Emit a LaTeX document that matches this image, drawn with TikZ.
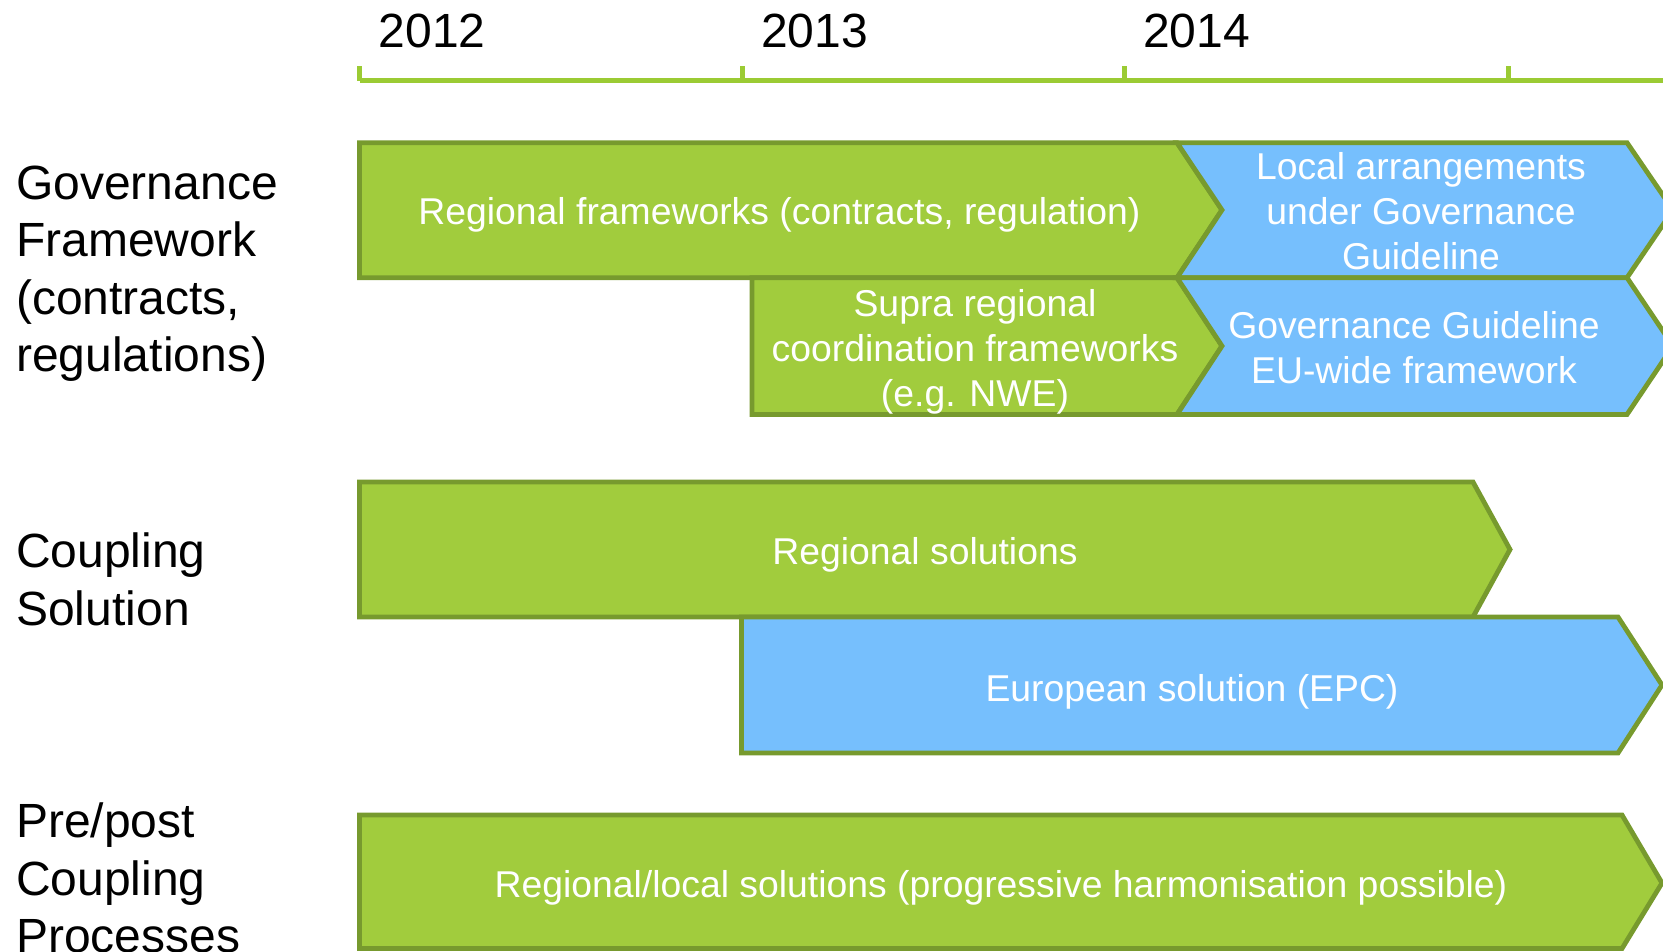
\documentclass[tikz,border=0pt]{standalone}
\usepackage{fontspec}
\setmainfont{Liberation Sans}
\definecolor{gfill}{HTML}{A1CC3D}
\definecolor{gline}{HTML}{779A2E}
\definecolor{bfill}{HTML}{76BFFD}
\definecolor{axis}{HTML}{9BCB34}
\begin{document}
\begin{tikzpicture}[x=0.75pt,y=-0.75pt,
  greenbar/.style={fill=gfill,draw=gline,line width=3.6pt,line join=miter},
  bluebar/.style={fill=bfill,draw=gline,line width=3.6pt,line join=miter},
  bartext/.style={text=white,font=\fontsize{28pt}{33.6pt}\selectfont,align=center,inner sep=0pt},
  rowlabel/.style={font=\fontsize{36pt}{43pt}\selectfont,align=left,anchor=base west,inner sep=0pt},
  yearlabel/.style={font=\fontsize{36pt}{43pt}\selectfont,anchor=base west,inner sep=0pt},
  axisline/.style={draw=axis,line width=3.75pt}]
\useasboundingbox (0,0) rectangle (1663,952);
\clip (0,0) rectangle (1663,952);
% time axis
\coordinate (t0) at (359.5,81);
\coordinate (t1) at (742.4,81);
\coordinate (t2) at (1124.2,81);
\coordinate (t3) at (1508.2,81);
\coordinate (tend) at (1665,81);
\draw[axisline] (t0) -- (tend);
\foreach \t in {t0,t1,t2,t3}{\draw[axisline] (\t) -- ++(0,-15);}
\node[yearlabel] (y2012) at (378.6,47.7) {2012};
\node[yearlabel] (y2013) at (761,47.7) {2013};
\node[yearlabel] (y2014) at (1143,47.7) {2014};
% row labels (base = last line)
\node[rowlabel] (lgov) at (16,371.5) {Governance\\Framework\\(contracts,\\regulations)};
\node[rowlabel] (lcoup) at (16,625) {Coupling\\Solution};
\node[rowlabel] (lpre) at (16,952.5) {Pre/post\\Coupling\\Processes};
% governance bars
\draw[greenbar] (359.5,142.7) -- (1177,142.7) -- (1222,210) -- (1177,277.7) -- (359.5,277.7) -- cycle;
\draw[greenbar] (752,277.7) -- (1177,277.7) -- (1222,346) -- (1177,414.5) -- (752,414.5) -- cycle;
\draw[bluebar] (1177,142.7) -- (1627,142.7) -- (1673,210) -- (1627,277.7) -- (1177,277.7) -- (1222,210) -- cycle;
\draw[bluebar] (1177,277.7) -- (1627,277.7) -- (1673,346) -- (1627,414.5) -- (1177,414.5) -- (1222,346) -- cycle;
\node[bartext] (regfw) at (779.5,214.5) {Regional frameworks (contracts, regulation)};
\node[bartext] (local) at (1421,211) {Local arrangements\\under Governance\\Guideline};
\node[bartext] (supra) at (975,352) {Supra regional\\coordination frameworks\\(e.g. NWE)};
\node[bartext] (ggl) at (1414,348) {Governance Guideline\\EU-wide framework};
% coupling bars
\draw[greenbar] (359.5,482) -- (1473,482) -- (1510,549.5) -- (1473,617) -- (359.5,617) -- cycle;
\draw[bluebar] (741.4,617) -- (1618,617) -- (1662,685) -- (1618,753) -- (741.4,753) -- cycle;
\node[bartext] (regsol) at (925,554.5) {Regional solutions};
\node[bartext] (epc) at (1192,691.5) {European solution (EPC)};
% pre/post bar
\draw[greenbar] (359.5,815) -- (1622,815) -- (1662,883) -- (1622,948.5) -- (359.5,948.5) -- cycle;
\node[bartext] (prepost) at (1001,887.5) {Regional/local solutions (progressive harmonisation possible)};
\end{tikzpicture}
\end{document}
